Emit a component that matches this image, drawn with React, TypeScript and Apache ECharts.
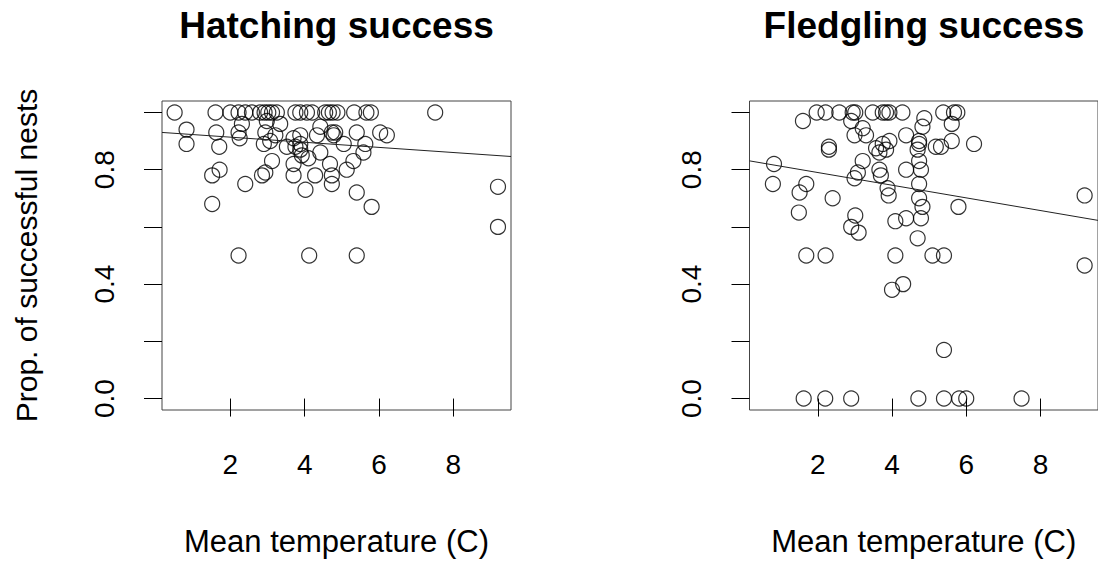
import { useEffect, useRef } from "react";
import * as echarts from "echarts";

const panelTitles = ["Hatching success", "Fledgling success"];
const xAxisTitle = "Mean temperature (C)";
const yAxisTitle = "Prop. of successful nests";
const xTicks = [2, 4, 6, 8];
const yTicks = [0, 0.2, 0.4, 0.6, 0.8, 1.0];
const yTickLabels = [0, 0.4, 0.8];

// Hatching success: mean temperature vs proportion
const hatchTemp = [
  0.5, 1.6, 2.0, 2.22, 2.4, 2.58, 2.8, 2.92, 3.02, 3.12, 3.25, 3.75, 3.88, 4.06, 4.2, 4.55, 4.65, 4.75, 4.88, 5.33, 5.66, 5.78, 7.51,
  0.82, 0.82, 1.62, 1.7, 2.22, 2.25, 2.31, 2.98, 3.34, 2.94, 3.21, 2.9, 3.07, 3.52, 3.7, 3.88, 3.88, 3.88, 3.92, 3.75, 4.1, 4.42, 4.33, 4.42, 4.73, 4.78, 4.82, 5.05, 5.4, 5.63, 5.58, 6.03, 6.21,
  3.12, 2.94, 2.85, 2.4, 3.7, 3.7, 4.02, 4.28, 4.68, 4.73, 4.73, 5.13, 5.31, 5.4, 5.8, 1.51, 1.71, 1.51, 9.2, 9.2, 2.22, 4.12, 5.4,
];
const hatchProp = [
  1, 1, 1, 1, 1, 1, 1, 1, 1, 1, 1, 1, 1, 1, 1, 1, 1, 1, 1, 1, 1, 1, 1,
  0.94, 0.89, 0.93, 0.88, 0.93, 0.91, 0.96, 0.97, 0.96, 0.93, 0.92, 0.89, 0.9, 0.88, 0.91, 0.92, 0.89, 0.87, 0.85, 0.88, 0.84, 0.95, 0.92, 0.86, 0.93, 0.92, 0.93, 0.89, 0.93, 0.89, 0.86, 0.93, 0.92,
  0.83, 0.79, 0.78, 0.75, 0.82, 0.78, 0.73, 0.78, 0.82, 0.78, 0.75, 0.8, 0.83, 0.72, 0.67, 0.78, 0.8, 0.68, 0.74, 0.6, 0.5, 0.5, 0.5,
];

// Fledgling success: mean temperature vs proportion
const fledgeTemp = [
  1.97, 2.21, 2.58, 2.94, 3.01, 3.48, 3.75, 3.84, 3.93, 4.28, 5.38, 5.67, 5.76,
  1.6, 2.9, 3.21, 2.99, 3.3, 2.3, 2.3, 3.57, 3.75, 3.84, 3.93, 3.66, 4.38, 4.87, 4.82, 4.73, 4.73, 4.69, 5.18, 5.32, 5.61, 5.61, 6.21,
  0.82, 0.79, 3.21, 3.08, 2.99, 3.66, 3.7, 3.88, 3.91, 4.38, 4.78, 4.73, 4.73, 4.73, 4.82, 4.78, 4.38, 4.09, 4.69,
  1.69, 1.51, 2.4, 1.49, 3.01, 2.9, 3.1, 5.79, 9.19, 9.19,
  1.69, 2.21, 4.09, 5.09, 5.4, 4.0, 4.3, 5.4,
  1.62, 2.2, 2.9, 4.71, 5.4, 5.81, 6.0, 7.49,
];
const fledgeProp = [
  1, 1, 1, 1, 1, 1, 1, 1, 1, 1, 1, 1, 1,
  0.97, 0.97, 0.945, 0.92, 0.92, 0.88, 0.87, 0.875, 0.89, 0.87, 0.9, 0.86, 0.92, 0.98, 0.95, 0.9, 0.89, 0.87, 0.88, 0.88, 0.96, 0.9, 0.89,
  0.82, 0.75, 0.83, 0.79, 0.77, 0.8, 0.78, 0.735, 0.71, 0.8, 0.8, 0.83, 0.75, 0.7, 0.67, 0.63, 0.63, 0.62, 0.56,
  0.75, 0.72, 0.7, 0.65, 0.64, 0.6, 0.58, 0.67, 0.71, 0.465,
  0.5, 0.5, 0.5, 0.5, 0.5, 0.38, 0.4, 0.17,
  0, 0, 0, 0, 0, 0, 0, 0,
];

// Fitted lines: [intercept, slope]
const hatchFit = [0.9315, -0.00895];
const fledgeFit = [0.8343, -0.02215];

const X_MIN = 0.16;
const X_MAX = 9.55;
const Y_MIN = -0.04;
const Y_MAX = 1.04;
const FONT = "'Liberation Sans', Arial, Helvetica, sans-serif";

export default function App() {
  const ref = useRef<HTMLDivElement>(null);
  useEffect(() => {
    if (!ref.current) return;
    const chart = echarts.init(ref.current, undefined, { renderer: "svg" });
    const grids = [
      { left: 162, top: 101, width: 349, height: 309 },
      { left: 749.5, top: 101, width: 349, height: 309 },
    ];
    const mkX = (i: number) => ({
      type: "value",
      gridIndex: i,
      min: X_MIN,
      max: X_MAX,
      name: xAxisTitle,
      nameLocation: "middle",
      nameGap: 116,
      nameTextStyle: { fontSize: 31, color: "#000", fontFamily: FONT },
      axisLine: { show: false },
      splitLine: { show: false },
      axisTick: { show: true, inside: false, length: 18, customValues: xTicks, lineStyle: { color: "#000", width: 1 } },
      axisLabel: { show: true, customValues: xTicks, fontSize: 28, color: "#000", fontFamily: FONT, margin: 40 },
    });
    const mkY = (i: number) => ({
      type: "value",
      gridIndex: i,
      min: Y_MIN,
      max: Y_MAX,
      name: i === 0 ? yAxisTitle : "",
      nameLocation: "middle",
      nameRotate: 90,
      nameGap: 121,
      nameTextStyle: { fontSize: 30, color: "#000", fontFamily: FONT },
      axisLine: { show: false },
      splitLine: { show: false },
      axisTick: { show: true, inside: false, length: 18, customValues: yTicks, lineStyle: { color: "#000", width: 1 } },
      axisLabel: {
        show: true,
        customValues: yTickLabels,
        rotate: 90,
        fontSize: 28,
        color: "#000",
        fontFamily: FONT,
        margin: 44,
        formatter: (v: number) => v.toFixed(1),
      },
    });
    const pts = (xs: number[], ys: number[]) => xs.map((x, k) => [x, ys[k]]);
    const fit = (f: number[]) => [
      [X_MIN, f[0] + f[1] * X_MIN],
      [X_MAX, f[0] + f[1] * X_MAX],
    ];
    const scatterStyle = {
      type: "scatter",
      symbol: "circle",
      symbolSize: 15,
      itemStyle: { color: "rgba(0,0,0,0)", borderColor: "#000", borderWidth: 1.2 },
      emphasis: { disabled: true },
    };
    const lineStyle = {
      type: "line",
      symbol: "none",
      lineStyle: { color: "#222", width: 1 },
      emphasis: { disabled: true },
    };
    chart.setOption({
      animation: false,
      backgroundColor: "#fff",
      textStyle: { fontFamily: FONT },
      title: [
        {
          text: panelTitles[0],
          left: 336.5,
          top: 7,
          padding: 0,
          textAlign: "center",
          textStyle: { fontSize: 37, fontWeight: "bold", color: "#000", fontFamily: FONT },
        },
        {
          text: panelTitles[1],
          left: 924,
          top: 7,
          padding: 0,
          textAlign: "center",
          textStyle: { fontSize: 37, fontWeight: "bold", color: "#000", fontFamily: FONT },
        },
      ],
      grid: grids.map((g) => ({ ...g, show: true, borderColor: "#444", borderWidth: 1, backgroundColor: "transparent" })),
      xAxis: [mkX(0), mkX(1)],
      yAxis: [mkY(0), mkY(1)],
      series: [
        { ...scatterStyle, xAxisIndex: 0, yAxisIndex: 0, data: pts(hatchTemp, hatchProp) },
        { ...lineStyle, xAxisIndex: 0, yAxisIndex: 0, data: fit(hatchFit) },
        { ...scatterStyle, xAxisIndex: 1, yAxisIndex: 1, data: pts(fledgeTemp, fledgeProp) },
        { ...lineStyle, xAxisIndex: 1, yAxisIndex: 1, data: fit(fledgeFit) },
      ],
    });
    return () => chart.dispose();
  }, []);
  return (
    <div
      ref={ref}
      style={{ position: "fixed", left: 0, top: 0, width: 1098, height: 565, background: "#fff" }}
    />
  );
}
